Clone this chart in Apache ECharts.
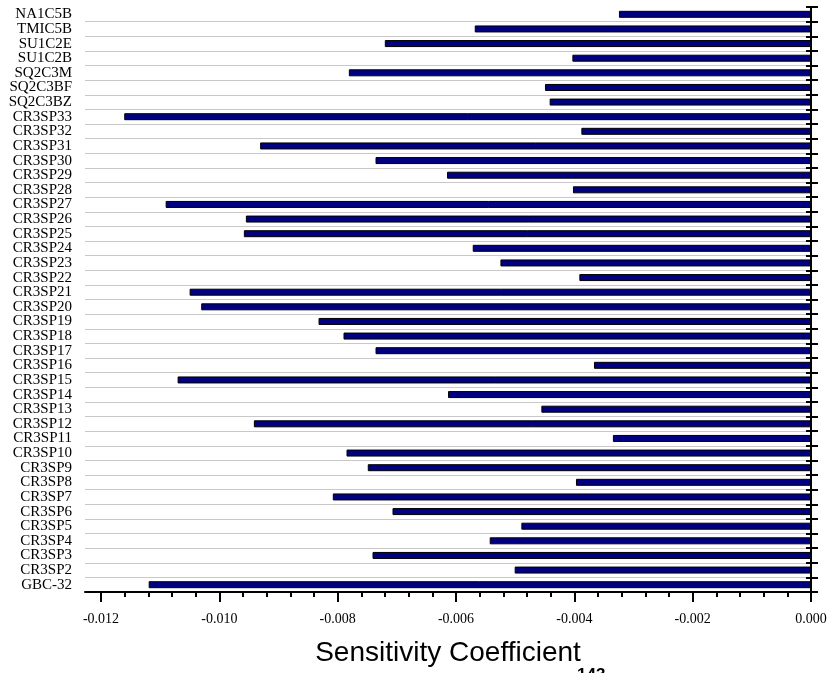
<!DOCTYPE html>
<html>
<head>
<meta charset="utf-8">
<script src="https://cdn.jsdelivr.net/npm/echarts@6/dist/echarts.min.js"></script>
<style>
html,body{margin:0;padding:0;background:#fff;}
#chart{width:832px;height:673px;}
</style>
</head>
<body>
<div id="chart"></div>
<script>
const categories = ['NA1C5B','TMIC5B','SU1C2E','SU1C2B','SQ2C3M','SQ2C3BF','SQ2C3BZ',
  'CR3SP33','CR3SP32','CR3SP31','CR3SP30','CR3SP29','CR3SP28','CR3SP27','CR3SP26','CR3SP25',
  'CR3SP24','CR3SP23','CR3SP22','CR3SP21','CR3SP20','CR3SP19','CR3SP18','CR3SP17','CR3SP16',
  'CR3SP15','CR3SP14','CR3SP13','CR3SP12','CR3SP11','CR3SP10','CR3SP9','CR3SP8','CR3SP7',
  'CR3SP6','CR3SP5','CR3SP4','CR3SP3','CR3SP2','GBC-32'];
const sensitivity = [-0.003246,-0.005683,-0.007203,-0.004033,-0.007811,-0.004496,-0.004417,
  -0.011607,-0.003881,-0.009310,-0.007360,-0.006151,-0.004023,-0.010907,-0.009551,-0.009585,
  -0.005717,-0.005249,-0.003915,-0.010502,-0.010306,-0.008323,-0.007901,-0.007360,-0.003668,
  -0.010705,-0.006134,-0.004557,-0.009416,-0.003348,-0.007850,-0.007491,-0.003972,-0.008082,
  -0.007073,-0.004895,-0.005430,-0.007411,-0.005008,-0.011194];
const majorTicks = [-0.012,-0.010,-0.008,-0.006,-0.004,-0.002,0];
const minorTicks = [-0.0116,-0.0112,-0.0108,-0.0104,-0.0096,-0.0092,-0.0088,-0.0084,
  -0.0076,-0.0072,-0.0068,-0.0064,-0.0056,-0.0052,-0.0048,-0.0044,
  -0.0036,-0.0032,-0.0028,-0.0024,-0.0016,-0.0012,-0.0008,-0.0004];
const axisMin = -0.01227;
const axisMax = 0;
const xTitle = 'Sensitivity Coefficient';
const footText = '143';

const chart = echarts.init(document.getElementById('chart'));
const serif = 'Liberation Serif';
const sans = 'Liberation Sans';
const catBase = {type:'category', inverse:true, data:categories, boundaryGap:true};
chart.setOption({
  animation:false,
  backgroundColor:'#fff',
  grid:{left:85, right:21, top:7, bottom:81, containLabel:false},
  xAxis:[{
    type:'value', min:axisMin, max:axisMax, position:'bottom',
    axisLine:{show:true, lineStyle:{color:'#000', width:2}},
    axisTick:{show:true, customValues:majorTicks, length:10, lineStyle:{color:'#000', width:2}},
    axisLabel:{show:true, customValues:majorTicks, margin:20, color:'#000', fontFamily:serif, fontSize:14,
      formatter:function(v){return v.toFixed(3);}},
    splitLine:{show:false},
    name:xTitle, nameLocation:'middle', nameGap:47,
    nameTextStyle:{fontFamily:sans, fontSize:28, color:'#000'}
  },{
    type:'value', min:axisMin, max:axisMax, position:'bottom',
    axisLine:{show:false},
    axisTick:{show:true, customValues:minorTicks, length:5, lineStyle:{color:'#000', width:2}},
    axisLabel:{show:false},
    splitLine:{show:false}
  }],
  yAxis:[
    Object.assign({}, catBase, {
      position:'left',
      axisLine:{show:false}, axisTick:{show:false},
      axisLabel:{interval:0, color:'#000', fontFamily:serif, fontSize:15, margin:13},
      splitLine:{show:true, interval:0, showMinLine:false, lineStyle:{color:'#c8c8c8', width:1.2}}
    }),
    Object.assign({}, catBase, {
      position:'right',
      axisLine:{show:true, lineStyle:{color:'#000', width:2}},
      axisTick:{show:true, interval:0, inside:true, length:5, lineStyle:{color:'#000', width:2}},
      axisLabel:{show:false, interval:0}, splitLine:{show:false}
    }),
    Object.assign({}, catBase, {
      position:'right',
      axisLine:{show:false},
      axisTick:{show:true, interval:0, inside:false, length:7, lineStyle:{color:'#000', width:2}},
      axisLabel:{show:false, interval:0}, splitLine:{show:false}
    })
  ],
  series:[{
    type:'bar', xAxisIndex:0, yAxisIndex:0,
    data:sensitivity, barWidth:7,
    itemStyle:{color:'#000080', borderColor:'#000', borderWidth:1}
  }],
  graphic:[{
    type:'text', left:577, top:667,
    style:{text:footText, font:'bold 17px "Liberation Sans"', fill:'#000'}
  }]
});
</script>
</body>
</html>
